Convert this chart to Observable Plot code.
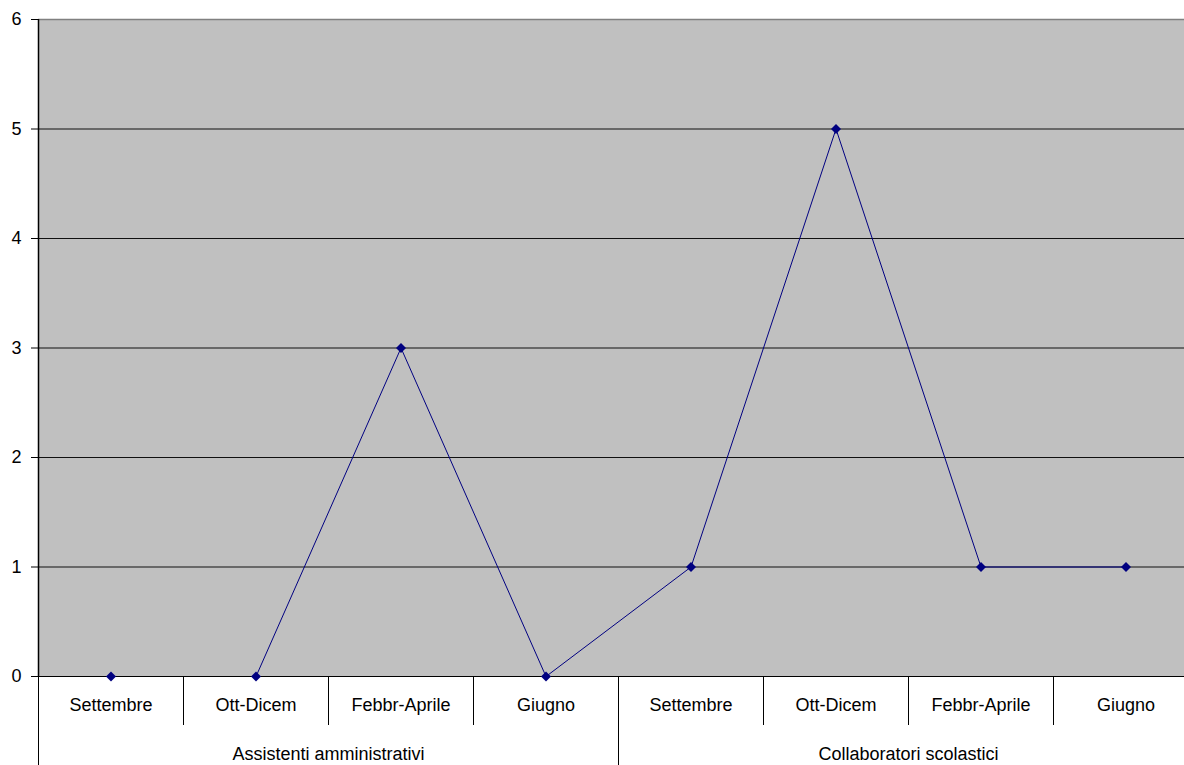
<!DOCTYPE html>
<html>
<head>
<meta charset="utf-8">
<script src="https://cdn.jsdelivr.net/npm/d3@7"></script>
<script src="https://cdn.jsdelivr.net/npm/@observablehq/plot@0.6"></script>
<style>
  html, body { margin: 0; padding: 0; background: #fff; overflow: hidden; }
  #chart svg { display: block; }
</style>
</head>
<body>
<div id="chart"></div>
<script>
const groups = ["Assistenti amministrativi", "Collaboratori scolastici"];
const periods = ["Settembre", "Ott-Dicem", "Febbr-Aprile", "Giugno"];
const assistentiValues = [0, 0, 3, 0];
const collaboratoriValues = [1, 5, 1, 1];
const yTicks = [0, 1, 2, 3, 4, 5, 6];

const seriesByGroup = [assistentiValues, collaboratoriValues];
const data = [];
groups.forEach((g, gi) => {
  periods.forEach((p, pi) => {
    data.push({idx: gi * periods.length + pi, group: g, period: p, value: seriesByGroup[gi][pi]});
  });
});
const n = data.length;
const centers = data.map(d => d.idx + 0.5);
const innerSeps = d3.range(1, n).filter(i => i % periods.length !== 0);
const groupSeps = d3.range(0, n, periods.length);
const groupCenters = groups.map((g, gi) => gi * periods.length + periods.length / 2);

const font = "Liberation Sans, Arial, sans-serif";

const chart = Plot.plot({
  width: 1184,
  height: 765,
  marginTop: 19,
  marginBottom: 89,
  marginLeft: 38,
  marginRight: -14,
  style: {fontFamily: font, fontSize: "18px", color: "#000", background: "#fff"},
  x: {type: "linear", domain: [0, n]},
  y: {domain: [0, 6]},
  marks: [
    Plot.frame({fill: "#c0c0c0", stroke: null}),
    Plot.ruleY(yTicks.filter(t => t > 0 && t < 6), {stroke: "#111", strokeWidth: 1}),
    Plot.ruleY([6], {stroke: "#808080", strokeWidth: 1.5}),
    Plot.line(data, {x: d => d.idx + 0.5, y: "value", stroke: "#000080", strokeWidth: 1}),
    Plot.ruleY([0], {stroke: "#000", strokeWidth: 1}),
    // y axis
    Plot.axisY({ticks: yTicks, tickSize: 7, tickPadding: 10, tickFormat: d3.format("d"), label: null, stroke: "#000", fontSize: 18}),
    // inner category separators
    Plot.axisX({ticks: innerSeps, tickSize: 49, tickFormat: () => "", label: null, stroke: "#000"}),
    // group separators (longer)
    Plot.axisX({ticks: groupSeps, tickSize: 89, tickFormat: () => "", label: null, stroke: "#000"}),
    // category labels
    Plot.axisX({ticks: centers, tickSize: 0, tickPadding: 22, tickFormat: (d) => periods[Math.floor(d) % periods.length], label: null, fontSize: 18}),
    // group labels
    Plot.axisX({ticks: groupCenters, tickSize: 0, tickPadding: 71, tickFormat: (d) => groups[Math.floor(d / periods.length)], label: null, fontSize: 18}),
    Plot.ruleX([0], {stroke: "#000", strokeWidth: 1.5}),
    Plot.dot(data, {x: d => d.idx + 0.5, y: "value", symbol: "diamond2", r: 4.5, fill: "#000080", stroke: null})
  ]
});
document.getElementById("chart").appendChild(chart);
</script>
</body>
</html>
